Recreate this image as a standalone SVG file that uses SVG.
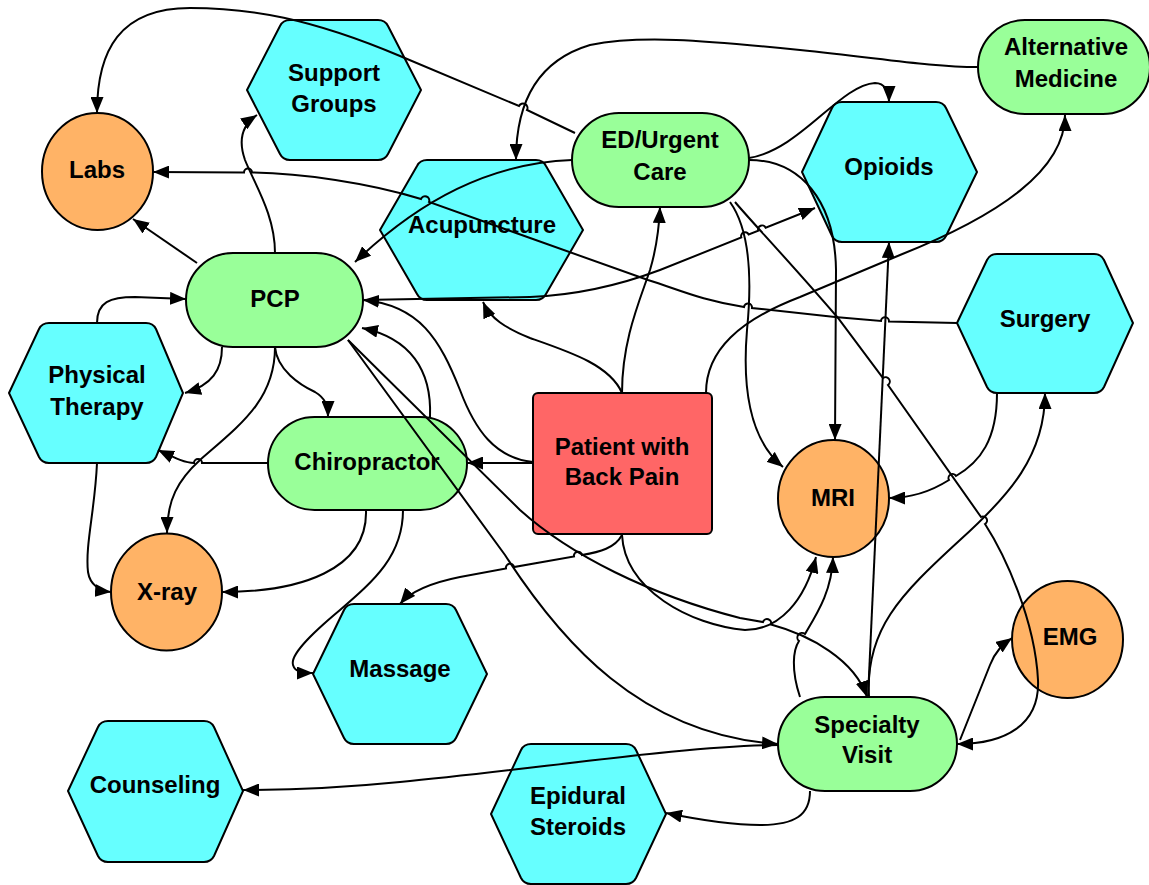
<svg xmlns="http://www.w3.org/2000/svg" width="1149" height="885" viewBox="0 0 1149 885">
<defs>
<marker id="ah" markerWidth="16" markerHeight="13" refX="16" refY="6.5" orient="auto" markerUnits="userSpaceOnUse"><path d="M0,0 L16,6.5 L0,13 z" fill="#000"/></marker>
<style>
.cy{fill:#66ffff;stroke:#000;stroke-width:2}
.gr{fill:#99ff99;stroke:#000;stroke-width:2}
.or{fill:#ffb366;stroke:#000;stroke-width:2}
.rd{fill:#ff6666;stroke:#000;stroke-width:2}
text{font-family:"Liberation Sans",Arial,sans-serif;font-weight:bold;font-size:24px;text-anchor:middle;fill:#000}
.e{fill:none;stroke:#000;stroke-width:2;marker-end:url(#ah)}
</style>
</defs>
<rect width="1149" height="885" fill="#fff"/>
<g id="labs"><ellipse class="or" cx="97.5" cy="171.5" rx="55.5" ry="58.5"/><text x="97" y="178">Labs</text></g>
<g id="support-groups"><path class="cy" d="M247,90 L280,26 Q283,20 290,20 L378,20 Q385,20 388,26 L421,90 L388,154 Q385,160 378,160 L290,160 Q283,160 280,154 Z"/><text x="334" y="81">Support</text><text x="334" y="112">Groups</text></g>
<g id="ed-urgent-care"><rect class="gr" x="572" y="113" width="177" height="94" rx="47"/><text x="660" y="148">ED/Urgent</text><text x="660" y="180">Care</text></g>
<g id="alternative-medicine"><rect class="gr" x="978" y="20" width="172" height="94" rx="47"/><text x="1066" y="55">Alternative</text><text x="1066" y="87">Medicine</text></g>
<g id="opioids"><path class="cy" d="M802,172 L832,108 Q835,102 842,102 L936,102 Q943,102 946,108 L977,172 L946,236 Q943,242 936,242 L842,242 Q835,242 832,236 Z"/><text x="889" y="175">Opioids</text></g>
<g id="acupuncture"><path class="cy" d="M380,230 L417,166 Q420,160 427,160 L536,160 Q543,160 546,166 L583,230 L546,294 Q543,300 536,300 L427,300 Q420,300 417,294 Z"/><text x="482" y="233">Acupuncture</text></g>
<g id="pcp"><rect class="gr" x="186" y="253" width="177" height="94" rx="47"/><text x="275" y="307">PCP</text></g>
<g id="surgery"><path class="cy" d="M957,323 L987,260 Q990,254 997,254 L1094,254 Q1101,254 1104,260 L1133,323 L1104,387 Q1101,393 1094,393 L997,393 Q990,393 987,387 Z"/><text x="1045" y="327">Surgery</text></g>
<g id="physical-therapy"><path class="cy" d="M9,393 L39,329 Q42,323 49,323 L146,323 Q153,323 156,329 L183,393 L156,457 Q153,463 146,463 L49,463 Q42,463 39,457 Z"/><text x="97" y="383">Physical</text><text x="97" y="415">Therapy</text></g>
<g id="chiropractor"><rect class="gr" x="268" y="417" width="199" height="93" rx="46.5"/><text x="367" y="470">Chiropractor</text></g>
<g id="patient"><rect class="rd" x="533" y="393" width="179" height="141" rx="5"/><text x="622" y="455">Patient with</text><text x="622" y="485">Back Pain</text></g>
<g id="mri"><ellipse class="or" cx="833.5" cy="498.5" rx="55.5" ry="58.5"/><text x="833" y="506">MRI</text></g>
<g id="x-ray"><ellipse class="or" cx="166.5" cy="592" rx="55.5" ry="58.5"/><text x="167" y="600">X-ray</text></g>
<g id="emg"><ellipse class="or" cx="1067.5" cy="639.5" rx="55.5" ry="58.5"/><text x="1070" y="645">EMG</text></g>
<g id="massage"><path class="cy" d="M313,674 L344,610 Q347,604 354,604 L446,604 Q453,604 456,610 L487,674 L456,738 Q453,744 446,744 L354,744 Q347,744 344,738 Z"/><text x="400" y="677">Massage</text></g>
<g id="counseling"><path class="cy" d="M68,791 L98,727 Q101,721 108,721 L204,721 Q211,721 214,727 L243,791 L214,856 Q211,862 204,862 L108,862 Q101,862 98,856 Z"/><text x="155" y="793">Counseling</text></g>
<g id="epidural-steroids"><path class="cy" d="M491,814 L521,750 Q524,744 531,744 L626,744 Q633,744 636,750 L666,814 L636,878 Q633,884 626,884 L531,884 Q524,884 521,878 Z"/><text x="578" y="804">Epidural</text><text x="578" y="835">Steroids</text></g>
<g id="specialty-visit"><rect class="gr" x="778" y="697" width="179" height="94" rx="47"/><text x="867" y="733">Specialty</text><text x="867" y="763">Visit</text></g>
<g id="connectors">
<path class="e" d="M575,133 L527,110 A4,4 0 0 0 519,106 L400,56 C310,18 250,8 190,8 C120,8 97,50 97,113"/>
<path class="e" d="M978,67 C930,67 880,58 800,50 C700,40 640,35 590,45 C540,60 516,100 516,160"/>
<path class="e" d="M572,160 C490,163 420,200 355,262"/>
<path class="e" d="M957,323 L889,321.5 A4,4 0 0 0 881,321 L835,317 L752,308 A4,4 0 0 0 744,307 C700,300 680,290 648,280 L429,202 A4,4 0 0 0 421,199 C370,183 300,173 252,172.5 A4,4 0 0 0 244,172.5 L153,172"/>
<path class="e" d="M363,300 L530,297 C580,295 620,285 660,270 L741.3,237.5 A4,4 0 0 1 748.7,234.5 L758.3,230.7 A4,4 0 0 1 765.7,227.7 L815,208"/>
<path class="e" d="M749,158 C800,150 840,85 875,83 C885,83 889,92 889,102"/>
<path class="e" d="M749,160 C800,160 835,200 836,270 L835,440"/>
<path class="e" d="M730,202 C750,230 752,280 747,330 C742,390 750,440 783,467"/>
<path class="e" d="M706,393 C706,350 740,320 800,297 L900,255 C1000,215 1065,170 1065,115"/>
<path class="e" d="M622,393 C622,340 640,300 650,270 C656,250 659,230 660,207"/>
<path class="e" d="M622,393 C610,365 570,352 530,338 C505,328 490,318 483,302"/>
<path class="e" d="M533,463 L467,463"/>
<path class="e" d="M533,462 C495,458 475,430 460,390 C440,340 420,305 363,300"/>
<path class="e" d="M430,417 C432,370 410,338 362,328"/>
<path class="e" d="M348,340 L505,555 C560,640 640,735 778,744"/>
<path class="e" d="M348,340 L520,510 C570,555 650,595 740,618 L763,622 A4,4 0 0 1 771,624.5 C810,635 855,660 867,697"/>
<path class="e" d="M778,745 C680,746 530,770 400,782 C340,788 290,790 243,790"/>
<path class="e" d="M810,791 C810,815 795,825 760,825 C730,825 700,820 666,813"/>
<path class="e" d="M800,697 C791,670 793,650 799,641 A4,4 0 0 1 805,634 C818,612 832,590 833,557"/>
<path class="e" d="M622,535 C625,590 690,625 745,630 C780,630 805,600 816,557"/>
<path class="e" d="M622,535 C615,548 600,552 582,555 A4,4 0 0 0 574,556.5 L514,567 A4,4 0 0 0 506,568.5 L460,577 C430,583 410,592 400,604"/>
<path class="e" d="M197,263 L133,219"/>
<path class="e" d="M275,253 C275,215 255,185 245,160 C238,140 242,125 257,115"/>
<path class="e" d="M97,323 C97,302 110,297 135,297 L186,299"/>
<path class="e" d="M222,347 C222,370 212,385 185,393"/>
<path class="e" d="M275,347 C277,370 300,385 315,392 C325,398 328,405 328,417"/>
<path class="e" d="M275,347 C275,400 240,425 200,460 C178,480 167,500 167,533"/>
<path class="e" d="M268,463 L202,463 A4,4 0 0 0 194,463 C185,463 175,458 158,450"/>
<path class="e" d="M97,463 C95,510 85,545 88,572 C90,585 100,591 111,592"/>
<path class="e" d="M366,510 C368,570 300,592 222,592"/>
<path class="e" d="M403,510 C403,555 375,580 340,610 C310,635 290,655 293,665 C295,672 302,673 313,673"/>
<path class="e" d="M868,697 L889,242"/>
<path class="e" d="M869,697 C865,630 900,595 960,540 C1010,495 1045,455 1045,393"/>
<path class="e" d="M997,393 C997,440 980,462 956,476 A4,4 0 0 0 949,480 C930,492 910,498 889,498"/>
<path class="e" d="M735,202 C750,220 790,262 838,318 L883,378 A4,4 0 0 1 888,385 L981,517 A4,4 0 0 1 985,524 C1005,555 1035,620 1038,680 C1040,725 1005,744 957,744"/>
<path class="e" d="M960,740 L990,665 C995,652 1002,645 1012,638"/>
</g>
</svg>
